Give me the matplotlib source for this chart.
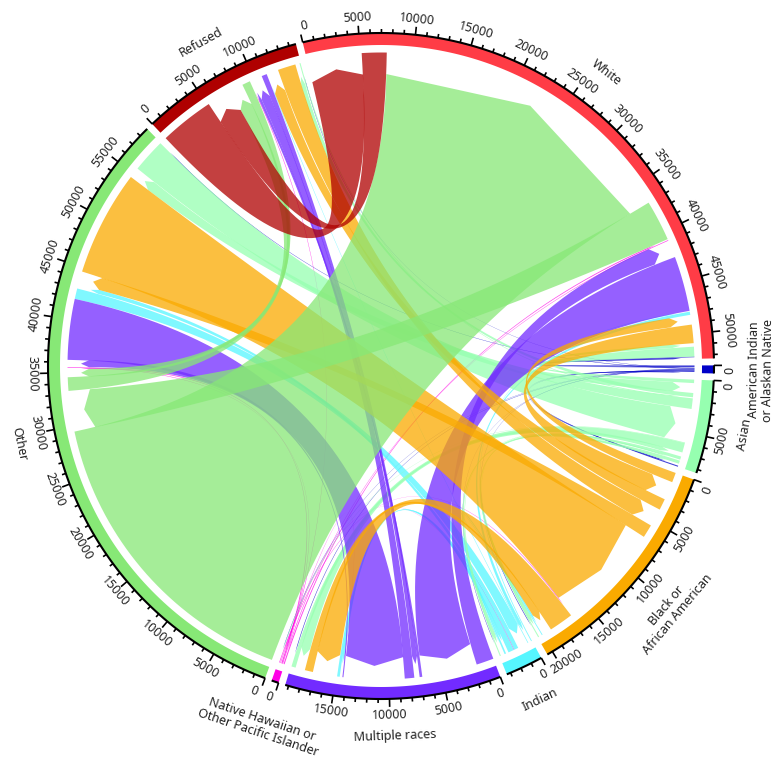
import numpy as np
import matplotlib
matplotlib.use('Agg')
import matplotlib.pyplot as plt
from matplotlib.collections import LineCollection
from matplotlib.patches import Polygon

# letter codes, clockwise from the top
sector_codes = ['W', 'Z', 'A', 'B', 'I', 'M', 'N', 'O', 'R']
sector_labels = ['White', 'American Indian\nor Alaskan Native', 'Asian', 'Black or\nAfrican American', 'Indian',
                 'Multiple races', 'Native Hawaiian or\nOther Pacific Islander', 'Other', 'Refused']
sector_colors = ['#FF3C46', '#0000C8', '#96FFB0', '#FAAA00', '#56F6FF', '#722BFF', '#FF00E6', '#87E876', '#AF0000']

# key 'XY': wide end at sector X, arrow end at sector Y
flow_keys = ['RW', 'WR', 'OW', 'WO', 'NW', 'WN', 'MW', 'WM', 'IW', 'WI', 'BW', 'WB', 'AW', 'WA', 'WZ', 'ZW',
             'OR', 'RO', 'NR', 'MR', 'MR2', 'RM', 'IR', 'BR', 'RB', 'AR', 'RA', 'ZR',
             'NO', 'ON', 'MO', 'OM', 'OI', 'IO', 'BO', 'OB', 'AO', 'OA', 'ZO',
             'NM', 'IM', 'MI', 'BM', 'MB', 'AM', 'MA', 'ZM',
             'AN', 'AI', 'IA', 'AB', 'BA', 'ZA', 'AZ',
             'IN', 'IB', 'BI', 'ZI', 'NB', 'ZB', 'ZN']
flow_values = [5150, 2350, 29450, 3850, 100, 60, 1650, 5220, 80, 300, 920, 1750, 330, 930, 60, 150,
               1280, 770, 60, 250, 900, 500, 60, 1070, 1700, 400, 100, 40,
               100, 60, 100, 5750, 1000, 400, 1250, 10000, 1000, 3200, 60,
               50, 550, 250, 2300, 770, 900, 400, 60,
               60, 300, 100, 300, 100, 100, 100,
               50, 150, 80, 40, 60, 60, 40]

# links whose arrow end is wider or narrower than the wide end
arrow_keys = ['MO', 'IM']
arrow_values = [700, 200]

# order of the link ends along each sector, clockwise
white_links = ['RW', 'WR', 'OW', 'WO', 'NW', 'WN', 'MW', 'WM', 'IW', 'WI', 'BW', 'WB', 'AW', 'WA', 'WZ', 'ZW']
aian_links = ['ZW', 'WZ', 'ZR', 'ZO', 'ZN', 'ZM', 'ZI', 'ZB', 'ZA', 'AZ']
asian_links = ['AW', 'WA', 'AR', 'RA', 'AO', 'OA', 'AN', 'AM', 'MA', 'AI', 'IA', 'AB', 'BA', 'ZA', 'AZ']
black_links = ['BW', 'WB', 'BR', 'RB', 'BO', 'OB', 'NB', 'BM', 'MB', 'IB', 'BI', 'AB', 'BA', 'ZB']
indian_links = ['IW', 'WI', 'IR', 'OI', 'IO', 'IN', 'IM', 'MI', 'IB', 'BI', 'AI', 'IA', 'ZI']
multiple_links = ['MW', 'WM', 'MR', 'RM', 'MR2', 'OM', 'MO', 'NM', 'IM', 'MI', 'BM', 'MB', 'AM', 'MA', 'ZM']
nh_links = ['NW', 'WN', 'NR', 'NO', 'ON', 'NM', 'IN', 'NB', 'AN', 'ZN']
other_links = ['OW', 'WO', 'OR', 'RO', 'NO', 'ON', 'MO', 'OM', 'OI', 'IO', 'BO', 'OB', 'AO', 'OA', 'ZO']
refused_links = ['RW', 'WR', 'OR', 'RO', 'NR', 'MR', 'MR2', 'RM', 'IR', 'BR', 'RB', 'AR', 'RA', 'ZR']
sector_links = [white_links, aian_links, asian_links, black_links, indian_links,
                multiple_links, nh_links, other_links, refused_links]

# picture geometry in pixels
CX, CY = 381, 366
R_OUT, R_BAR = 333, 321
R_HIGH, R_TIP, R_LOW = 313.5, 300, 292
DEG_PER_UNIT = 0.001954
START = 103.6

color_rank = ['Z', 'A', 'N', 'I', 'B', 'M', 'O', 'R', 'W']
draw_rank = ['Z', 'N', 'I', 'A', 'M', 'B', 'O', 'R']


def pt(theta, r):
    t = np.radians(theta)
    return np.column_stack([CX + r * np.cos(t), CY - r * np.sin(t)])


def bezier(p0, p1):
    # quadratic curve with the circle centre as control point
    t = np.linspace(0, 1, 50)[:, None]
    c = np.array([[CX, CY]])
    return (1 - t) ** 2 * p0 + 2 * t * (1 - t) * c + t ** 2 * p1


def link_end(a0, a1, arrow):
    if arrow:
        return np.vstack([pt(a0, R_LOW), pt((a0 + a1) / 2, R_TIP), pt(a1, R_LOW)])
    return pt(np.linspace(a0, a1, 40), R_HIGH)


flows = dict(zip(flow_keys, flow_values))
arrow_flows = dict(zip(arrow_keys, arrow_values))


def end_value(key, code):
    # value of link `key` at sector `code`
    if code == key[1] and key in arrow_flows:
        return arrow_flows[key]
    return flows[key]


totals = [sum(end_value(k, code) for k in links) for code, links in zip(sector_codes, sector_links)]
gap = (360 - DEG_PER_UNIT * sum(totals)) / len(totals)

plt.rcParams['font.family'] = ['Noto Sans', 'DejaVu Sans']
fig = plt.figure(figsize=(7.8, 7.68), dpi=100)
ax = fig.add_axes([0, 0, 1, 1])
ax.set_xlim(0, 780)
ax.set_ylim(768, 0)
ax.axis('off')

# place sectors and link ends
ends = {}
sector_span = []
theta = START
for code, links, total in zip(sector_codes, sector_links, totals):
    sector_span.append((theta, theta - total * DEG_PER_UNIT))
    pos = theta
    for k in links:
        width = end_value(k, code) * DEG_PER_UNIT
        ends[(k, code)] = (pos, pos - width)
        pos -= width
    theta = pos - gap

# links
keys_sorted = sorted(flow_keys, key=lambda k: draw_rank.index(next(c for c in color_rank if c in k)))
color_of = dict(zip(sector_codes, sector_colors))
for k in keys_sorted:
    high, low = k[0], k[1]
    c = next(x for x in color_rank if x in k[:2])
    h0, h1 = ends[(k, high)]
    l0, l1 = ends[(k, low)]
    end_a = link_end(h0, h1, False)
    end_b = link_end(l0, l1, True)
    verts = np.vstack([end_a, bezier(end_a[-1:], end_b[:1]), end_b, bezier(end_b[-1:], end_a[:1])])
    ax.add_patch(Polygon(verts, closed=True, facecolor=color_of[c], edgecolor='none', alpha=0.75, zorder=2))

# sector bars, axis arcs, ticks, labels
for code, label, color, (a0, a1), total in zip(sector_codes, sector_labels, sector_colors, sector_span, totals):
    arc = np.linspace(a0, a1, 120)
    bar = np.vstack([pt(arc, R_OUT), pt(arc[::-1], R_BAR)])
    ax.add_patch(Polygon(bar, closed=True, facecolor=color, edgecolor='none', zorder=3))
    ax.plot(*pt(arc, R_OUT).T, color='black', lw=1.5, zorder=4, solid_capstyle='butt')

    segs = []
    for v in range(0, total + 1, 1000):
        t = a0 - v * DEG_PER_UNIT
        major = v % 5000 == 0
        segs.append(np.vstack([pt(t, R_OUT), pt(t, R_OUT + (8 if major else 4))]))
        if major:
            # zero labels sit a bit past their tick, the last Black label a bit before
            t_text = t - 0.9 if v == 0 else t
            if code == 'B' and v == 20000:
                t_text = t + 1.1
            xy = pt(t_text, R_OUT + 16)[0]
            rot = t_text - 90 if np.sin(np.radians(t_text)) > 0 else t_text + 90
            ax.text(xy[0], xy[1], str(v), fontsize=9.0, color='#222222', rotation=rot,
                    rotation_mode='anchor', ha='center', va='center', zorder=5)
    ax.add_collection(LineCollection(segs, colors='black', linewidths=1.2, zorder=4))

    mid = (a0 + a1) / 2
    r_label = 380 if '\n' in label else 370
    xy = pt(mid, r_label)[0]
    rot = mid - 90 if np.sin(np.radians(mid)) > 0 else mid + 90
    ax.text(xy[0], xy[1], label, fontsize=9.0, color='#222222', rotation=rot, rotation_mode='anchor',
            ha='center', va='center', linespacing=1.1, zorder=5)

fig.savefig('out.png', dpi=100)
